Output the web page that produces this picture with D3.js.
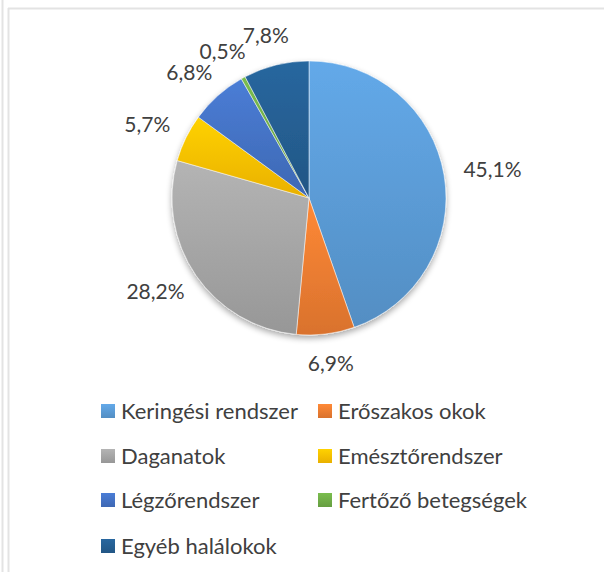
<!DOCTYPE html>
<html>
<head>
<meta charset="utf-8">
<script src="https://d3js.org/d3.v7.min.js"></script>
<style>
  body { margin:0; background:#fff; }
  svg { display:block; }
  text { font-family: Lato, "Open Sans", sans-serif; fill:#404040; }
</style>
</head>
<body>
<div id="chart"></div>
<script>
// kategóriák és értékek (%)
var categories = ["Keringési rendszer", "Erőszakos okok", "Daganatok", "Emésztőrendszer",
                  "Légzőrendszer", "Fertőző betegségek", "Egyéb halálokok"];
var values = [45.1, 6.9, 28.2, 5.7, 6.8, 0.5, 7.8];
var labels = ["45,1%", "6,9%", "28,2%", "5,7%", "6,8%", "0,5%", "7,8%"];
var colors = ["#5b9bd5", "#ed7d31", "#a5a5a5", "#ffc000", "#4472c4", "#70ad47", "#255e91"];

const width = 604, height = 572;
const cx = 309, cy = 198, radius = 137;

const svg = d3.select("#chart").append("svg")
    .attr("width", width)
    .attr("height", height);

// frame lines
svg.append("line").attr("x1", 2.5).attr("x2", 2.5).attr("y1", 0).attr("y2", height)
    .attr("stroke", "#e3e3e3").attr("stroke-width", 2);
svg.append("line").attr("x1", 8.5).attr("x2", 8.5).attr("y1", 8).attr("y2", height)
    .attr("stroke", "#e3e3e3").attr("stroke-width", 2);
svg.append("line").attr("x1", 8).attr("x2", width).attr("y1", 8.5).attr("y2", 8.5)
    .attr("stroke", "#e3e3e3").attr("stroke-width", 2);

const defs = svg.append("defs");

// gradient for each colour (lighter top, darker bottom)
colors.forEach(function(c, i) {
  var g = defs.append("linearGradient")
      .attr("id", "grad" + i)
      .attr("x1", 0).attr("y1", 0).attr("x2", 0).attr("y2", 1);
  g.append("stop").attr("offset", "0%").attr("stop-color", d3.color(c).brighter(0.25));
  g.append("stop").attr("offset", "100%").attr("stop-color", d3.color(c).darker(0.25));
});

var shadow = defs.append("filter").attr("id", "shadow")
    .attr("x", "-20%").attr("y", "-20%").attr("width", "140%").attr("height", "140%");
shadow.append("feGaussianBlur").attr("in", "SourceAlpha").attr("stdDeviation", 3);
shadow.append("feOffset").attr("dx", 0).attr("dy", 3).attr("result", "b");
shadow.append("feComponentTransfer").append("feFuncA").attr("type", "linear").attr("slope", 0.35);
var merge = shadow.append("feMerge");
merge.append("feMergeNode");
merge.append("feMergeNode").attr("in", "SourceGraphic");

const pie = d3.pie().sort(null).value(d => d);
const arcs = pie(values);
const arc = d3.arc().innerRadius(0).outerRadius(radius);

const g = svg.append("g").attr("transform", "translate(" + cx + "," + cy + ")");

g.append("g").attr("filter", "url(#shadow)")
  .selectAll("path")
  .data(arcs)
  .enter()
  .append("path")
  .attr("d", arc)
  .attr("fill", (d, i) => "url(#grad" + i + ")")
  .attr("stroke", "#fff")
  .attr("stroke-width", 0.5);

// data labels, outside end
var labelOffset = 20;
g.selectAll("text.lbl")
  .data(arcs)
  .enter()
  .append("text")
  .attr("class", "lbl")
  .style("font-size", "21px")
  .attr("text-anchor", "middle")
  .text((d, i) => labels[i])
  .each(function(d) {
    var a = (d.startAngle + d.endAngle) / 2;
    var bb = this.getBBox();
    var r = radius + labelOffset;
    var x = Math.sin(a) * r + Math.sin(a) * bb.width / 2;
    var y = -Math.cos(a) * r - Math.cos(a) * 10;
    d3.select(this).attr("x", x).attr("y", y + 7);
  });

// legend
var colX = [101, 318], rowY = [411, 456, 500, 546];
var legend = svg.append("g").attr("id", "legend");
var item = legend.selectAll("g")
  .data(categories)
  .enter()
  .append("g")
  .attr("transform", (d, i) => "translate(" + colX[i % 2] + "," + rowY[Math.floor(i / 2)] + ")");

item.append("rect")
  .attr("x", 0).attr("y", -7)
  .attr("width", 14).attr("height", 14)
  .attr("fill", (d, i) => "url(#grad" + i + ")");

item.append("text")
  .attr("x", 20)
  .attr("y", 7.5)
  .style("font-size", "22px")
  .text(d => d);
</script>
</body>
</html>
